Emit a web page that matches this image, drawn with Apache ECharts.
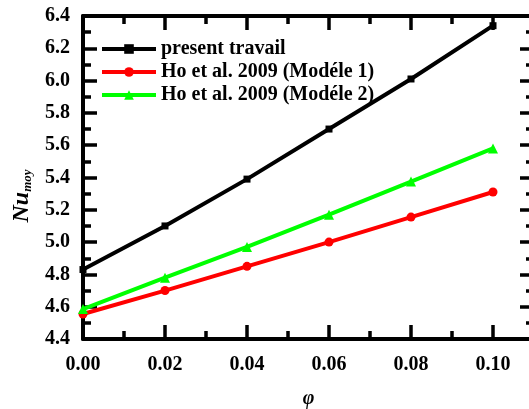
<!DOCTYPE html>
<html>
<head>
<meta charset="utf-8">
<script src="https://cdn.jsdelivr.net/npm/echarts@6/dist/echarts.min.js"></script>
<style>
html,body{margin:0;padding:0;background:#fff;}
#chart{width:529px;height:409px;}
</style>
</head>
<body>
<div id="chart"></div>
<script>
// Volume fraction and average Nusselt number
const phi = [0.00, 0.02, 0.04, 0.06, 0.08, 0.10];
const presentTravail = [4.83, 5.10, 5.39, 5.70, 6.01, 6.34];
const hoModele1 = [4.555, 4.70, 4.85, 5.00, 5.155, 5.31];
const hoModele2 = [4.585, 4.78, 4.97, 5.17, 5.375, 5.58];
const seriesNames = ['present travail', 'Ho et al. 2009 (Modéle 1)', 'Ho et al. 2009 (Modéle 2)'];

const font = 'Liberation Serif, Times New Roman, serif';
const pairs = arr => phi.map((x, i) => [x, arr[i]]);

// fresh style objects for every axis
const axisLine = () => ({ show: true, onZero: false, lineStyle: { color: '#000', width: 4 } });
const majorTick = () => ({ show: true, inside: true, length: 14, lineStyle: { color: '#000', width: 3.5 } });
const minorTick = () => ({ show: true, splitNumber: 2, length: 8, lineStyle: { color: '#000', width: 3.5 } });
const labelStyle = () => ({ color: '#000', fontFamily: font, fontWeight: 'bold', fontSize: 20 });

const chart = echarts.init(document.getElementById('chart'));
chart.setOption({
  animation: false,
  backgroundColor: '#fff',
  grid: { left: 83, top: 16, width: 451, height: 323, outerBoundsMode: 'none', containLabel: false },
  legend: {
    left: 100, top: 39, orient: 'vertical', padding: 0,
    itemWidth: 54, itemHeight: 12, itemGap: 3,
    lineStyle: { width: 4 },
    textStyle: { color: '#000', fontFamily: font, fontWeight: 'bold', fontSize: 20 },
    data: seriesNames
  },
  graphic: [{
    type: 'text', x: 22, y: 196, rotation: Math.PI / 2,
    style: {
      text: '{a|Nu}{b|moy}', align: 'center', verticalAlign: 'middle',
      rich: {
        a: { fontFamily: font, fontWeight: 'bold', fontStyle: 'italic', fontSize: 24, fill: '#000' },
        b: { fontFamily: font, fontWeight: 'bold', fontStyle: 'italic', fontSize: 13, fill: '#000', padding: [12, 0, 0, 0] }
      }
    }
  }],
  xAxis: [{
    type: 'value', min: 0, max: 0.11, interval: 0.02,
    axisLine: axisLine(), axisTick: majorTick(), minorTick: minorTick(),
    splitLine: { show: false },
    axisLabel: Object.assign({ margin: 16, showMaxLabel: false, formatter: v => v.toFixed(2) }, labelStyle()),
    name: 'φ', nameLocation: 'middle', nameGap: 50,
    nameTextStyle: { color: '#000', fontFamily: font, fontWeight: 'bold', fontStyle: 'italic', fontSize: 20 }
  }, {
    type: 'value', position: 'top', min: 0, max: 0.11, interval: 0.02,
    axisLine: axisLine(), axisTick: majorTick(), minorTick: minorTick(),
    splitLine: { show: false }, axisLabel: { show: false }
  }],
  yAxis: [{
    type: 'value', min: 4.4, max: 6.4, interval: 0.2,
    axisLine: axisLine(), axisTick: majorTick(), minorTick: minorTick(),
    splitLine: { show: false },
    axisLabel: Object.assign({ margin: 13, formatter: v => v.toFixed(1) }, labelStyle())
  }, {
    type: 'value', position: 'right', min: 4.4, max: 6.4, interval: 0.2,
    axisLine: axisLine(), axisTick: majorTick(), minorTick: minorTick(),
    splitLine: { show: false }, axisLabel: { show: false }
  }],
  series: [
    { name: seriesNames[0], type: 'line', data: pairs(presentTravail),
      symbol: 'rect', symbolSize: 7, color: '#000',
      lineStyle: { width: 4, color: '#000' }, itemStyle: { color: '#000' } },
    { name: seriesNames[1], type: 'line', data: pairs(hoModele1),
      symbol: 'circle', symbolSize: 9, color: '#ff0000',
      lineStyle: { width: 4, color: '#ff0000' }, itemStyle: { color: '#ff0000' } },
    { name: seriesNames[2], type: 'line', data: pairs(hoModele2),
      symbol: 'triangle', symbolSize: 10, color: '#00ff00',
      lineStyle: { width: 4, color: '#00ff00' }, itemStyle: { color: '#00ff00' } }
  ]
});
</script>
</body>
</html>
